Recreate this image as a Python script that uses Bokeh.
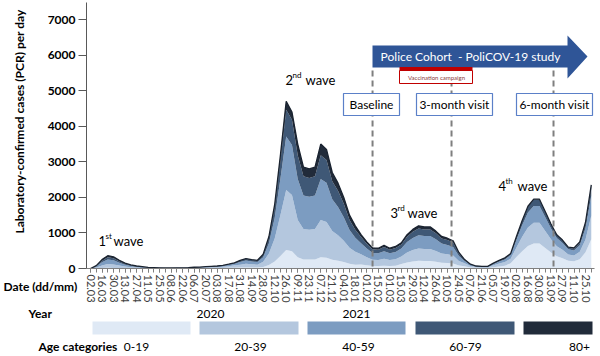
import math
from bokeh.plotting import figure
from bokeh.layouts import column
from bokeh.models import ColumnDataSource, FixedTicker, Label, Range1d
from bokeh.embed import file_html
from bokeh.resources import INLINE

# ---------------- data (weekly, starting Monday 02.03.2020) ----------------
weeks = list(range(88))
tick_labels = ["02.03", "16.03", "30.03", "13.04", "27.04", "11.05", "25.05", "08.06",
               "22.06", "06.07", "20.07", "03.08", "17.08", "31.08", "14.09", "28.09",
               "12.10", "26.10", "09.11", "23.11", "07.12", "21.12", "04.01", "18.01",
               "01.02", "15.02", "01.03", "15.03", "29.03", "12.04", "26.04", "10.05",
               "24.05", "07.06", "21.06", "05.07", "19.07", "02.08", "16.08", "30.08",
               "13.09", "27.09", "11.10", "25.10"]
years = ["2020", "2021"]
age_groups = ["0-19", "20-39", "40-59", "60-79", "80+"]

a0_19 = [0, 4, 12, 18, 16, 12, 8, 5, 4, 2,
         2, 4, 3, 2, 2, 3, 3, 4, 5, 6,
         8, 9, 10, 14, 18, 24, 25, 31, 28, 25,
         44, 99, 198, 352, 517, 484, 315, 256, 252, 256,
         315, 302, 243, 216, 180, 135, 108, 114, 90, 70,
         68, 78, 68, 74, 130, 171, 198, 216, 211, 211,
         189, 162, 153, 140, 81, 62, 30, 18, 15, 15,
         38, 58, 75, 151, 324, 486, 630, 702, 702, 576,
         450, 342, 288, 216, 203, 262, 455, 822]
a20_39 = [0, 24, 75, 108, 99, 69, 45, 30, 21, 15,
          9, 10, 8, 6, 6, 8, 8, 10, 14, 16,
          20, 24, 28, 36, 48, 64, 83, 101, 90, 83,
          144, 324, 648, 1152, 1692, 1584, 1050, 855, 840, 855,
          1050, 1005, 810, 720, 600, 450, 360, 285, 225, 174,
          171, 195, 171, 186, 209, 276, 319, 348, 339, 339,
          305, 261, 247, 226, 131, 88, 42, 24, 21, 21,
          52, 80, 105, 126, 270, 405, 525, 585, 585, 480,
          375, 285, 240, 180, 162, 210, 364, 658]
a40_59 = [0, 28, 88, 126, 116, 80, 52, 35, 24, 18,
          10, 7, 6, 5, 5, 6, 6, 7, 11, 12,
          15, 18, 21, 27, 36, 48, 74, 90, 80, 74,
          128, 288, 576, 1024, 1504, 1408, 1155, 941, 924, 941,
          1155, 1106, 891, 792, 660, 495, 396, 314, 248, 191,
          188, 215, 188, 205, 223, 295, 341, 372, 363, 363,
          326, 279, 264, 242, 140, 62, 30, 18, 15, 15,
          38, 58, 75, 101, 216, 324, 420, 468, 468, 384,
          300, 228, 192, 144, 139, 180, 312, 564]
a60_79 = [0, 14, 45, 65, 59, 41, 27, 18, 13, 9,
          5, 3, 2, 1, 1, 2, 2, 3, 3, 4,
          5, 6, 7, 9, 12, 16, 37, 45, 40, 37,
          64, 144, 288, 512, 752, 704, 665, 542, 532, 542,
          665, 636, 513, 456, 380, 285, 228, 171, 135, 104,
          103, 117, 103, 112, 115, 152, 176, 192, 187, 187,
          168, 144, 136, 125, 72, 25, 12, 7, 6, 6,
          15, 23, 30, 38, 81, 122, 158, 176, 176, 144,
          113, 86, 72, 54, 52, 68, 117, 212]
a80 = [0, 10, 30, 43, 40, 28, 18, 12, 8, 6,
       4, 1, 1, 1, 1, 1, 1, 1, 2, 2,
       2, 3, 4, 4, 6, 8, 11, 13, 12, 11,
       20, 45, 90, 160, 235, 220, 315, 256, 252, 256,
       315, 301, 243, 216, 180, 135, 108, 66, 52, 41,
       40, 45, 40, 43, 43, 57, 66, 72, 70, 70,
       63, 54, 51, 47, 27, 13, 6, 3, 3, 3,
       7, 11, 15, 4, 9, 13, 17, 19, 19, 16,
       12, 9, 8, 6, 24, 30, 52, 94]

# study milestones (week index)
baseline_week = 49.0
month3_week = 62.72
month6_week = 80.44

colors = ["#dfe9f5", "#b4c7de", "#7c9cc1", "#3f5876", "#212b3a"]
FONT = "Lato"

# ---------------- main chart ----------------
X0, X1 = -0.695, 87.56
Y1 = 7480
p = figure(width=600, height=356, output_backend="svg", toolbar_location=None,
           x_range=Range1d(X0, X1), y_range=Range1d(0, Y1),
           min_border_left=86, min_border_right=6, min_border_top=2,
           min_border_bottom=88)
p.outline_line_color = None
p.grid.visible = False


def wx(px):  # pixel x -> week
    return X0 + (px - 86) * (X1 - X0) / 508.0


def wy(py):  # pixel y -> value
    return (268 - py) * Y1 / 266.0


src = ColumnDataSource(dict(w=weeks, g0=a0_19, g1=a20_39, g2=a40_59, g3=a60_79, g4=a80))
p.varea_stack(stackers=["g0", "g1", "g2", "g3", "g4"], x="w", color=colors, source=src)
total = [a + b + c + d + e for a, b, c, d, e in zip(a0_19, a20_39, a40_59, a60_79, a80)]
p.line(weeks, total, line_color="#1a2330", line_width=1.3)

yax = p.yaxis[0]
yax.ticker = FixedTicker(ticks=[0, 1000, 2000, 3000, 4000, 5000, 6000, 7000])
yax.major_label_text_font = FONT
yax.major_label_text_font_size = "12px"
yax.major_label_text_font_style = "bold"
yax.major_label_text_color = "#000000"
yax.major_tick_out = 8
yax.major_tick_in = 0
yax.minor_tick_out = 0
yax.minor_tick_in = 0
yax.axis_line_color = "#595959"
yax.major_tick_line_color = "#595959"
yax.major_label_standoff = 3

xax = p.xaxis[0]
xax.ticker = FixedTicker(ticks=list(range(0, 88, 2)), minor_ticks=weeks)
xax.major_label_overrides = {w: lab for w, lab in zip(range(0, 88, 2), tick_labels)}
xax.major_label_orientation = -math.pi / 2
xax.major_label_text_font = FONT
xax.major_label_text_font_size = "11px"
xax.major_label_text_color = "#404040"
xax.major_tick_out = 4
xax.major_tick_in = 0
xax.minor_tick_out = 4
xax.minor_tick_in = 0
xax.axis_line_color = "#7f7f7f"
xax.major_tick_line_color = "#7f7f7f"
xax.minor_tick_line_color = "#7f7f7f"
xax.major_label_standoff = 2

for wk in [baseline_week, month3_week, month6_week]:
    p.segment(x0=[wk], y0=[wy(70)], x1=[wk], y1=[0], line_color="#7f7f7f",
              line_width=2, line_dash="6 4")

p.patch([wx(372), wx(567), wx(567), wx(587), wx(567), wx(567), wx(372)],
        [wy(45), wy(45), wy(35), wy(56), wy(78), wy(67), wy(67)],
        fill_color="#2f5597", line_color=None)
p.quad(left=[wx(399)], right=[wx(472)], top=[wy(70)], bottom=[wy(83)],
       fill_color="white", line_color="#c00000", line_width=1)
p.quad(left=[wx(399)], right=[wx(472)], top=[wy(66.5)], bottom=[wy(70)],
       fill_color="#c00000", line_color=None)
for l, r in [(343, 399), (416, 492), (516, 592)]:
    p.quad(left=[wx(l)], right=[wx(r)], top=[wy(93)], bottom=[wy(115)],
           fill_color="white", line_color="#5b80c8", line_width=1.2)

# ---------------- transparent overlay for texts around the chart ----------------
ov = figure(width=600, height=356, output_backend="svg", toolbar_location=None,
            x_range=Range1d(0, 600), y_range=Range1d(356, 0),
            x_axis_location=None, y_axis_location=None,
            min_border=0, min_border_left=0, min_border_right=0,
            min_border_top=0, min_border_bottom=0,
            border_fill_color=None, background_fill_color=None)
ov.outline_line_color = None
ov.grid.visible = False
ov.margin = (-356, 0, 0, 0)
p.frame_align = False
ov.frame_align = False


def lab(text, px, py, size=12, bold=False, color="#000000", align="left", angle=0.0):
    ov.add_layout(Label(x=px, y=py, text=text, text_font=FONT,
                        text_font_size=f"{size}px",
                        text_font_style="bold" if bold else "normal",
                        text_color=color, text_align=align, text_baseline="middle",
                        angle=angle))


lab("Police Cohort\u00a0 - PoliCOV-19 study", 470, 56, size=12, color="white", align="center")
lab("Vaccination campaign", 436, 77, size=6, color="#8a3a3a", align="center")
lab("Baseline", 371, 104, size=12, align="center")
lab("3-month visit", 454, 104, size=12, align="center")
lab("6-month visit", 554, 104, size=12, align="center")

for num, sup, px, py, wpx in [("1", "st", 98, 240, 113), ("2", "nd", 285, 79, 305),
                              ("3", "rd", 390, 212, 407), ("4", "th", 498, 185, 517)]:
    lab(num, px, py, size=13)
    lab(sup, px + 7, py - 5, size=8)
    lab("wave", wpx, py, size=13)

lab("Laboratory-confirmed cases (PCR) per day", 19, 121, size=12, bold=True,
    align="center", angle=math.pi / 2)
lab("Date (dd/mm)", 3, 286, size=12, bold=True)
lab("Year", 28, 313, size=12, bold=True)
lab(years[0], 210, 313, size=12, align="center")
lab(years[1], 356, 313, size=12, align="center")
lab("Age categories", 38, 346, size=12, bold=True)

bar_l = [92, 199, 307, 415, 523]
bar_r = [190, 298, 405, 514, 592]
ov.quad(left=bar_l, right=bar_r, top=[321] * 5, bottom=[334] * 5,
        fill_color=colors, line_color=None)
for c, g in zip([136, 250, 358, 465, 579], age_groups):
    lab(g, c, 346, size=12, align="center")

layout = column(p, ov, spacing=0)
open("out.html", "w").write(file_html(layout, INLINE))
